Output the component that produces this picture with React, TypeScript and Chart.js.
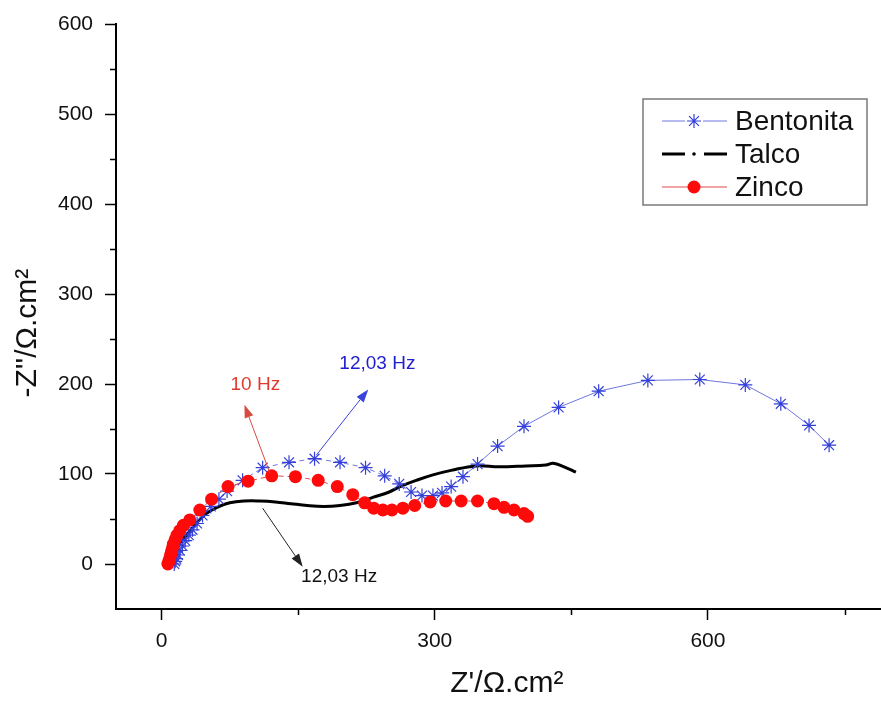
import React, { useEffect, useRef } from 'react';
import { Chart, registerables } from 'chart.js';

Chart.register(...registerables);

// ---- Data ----
const bentonitaX = [14, 15, 16, 18, 20, 23, 26, 30, 34, 39, 45, 54, 63, 72, 89, 111, 140, 168, 196, 224, 245, 261, 274, 286, 298, 308, 318, 331, 347, 369, 398, 436, 480, 534, 591, 641, 680, 711, 733];
const bentonitaY = [0, 3, 6, 10, 15, 20, 26, 32, 38, 45, 54, 64, 72, 81, 93, 107, 113, 117, 113, 107, 98, 89, 80, 76, 76, 79, 86, 97, 111, 131, 153, 174, 192, 204, 205, 199, 178, 154, 132];

const talcoX = [8, 10, 13, 17, 22, 29, 38, 49, 61, 75, 91, 108, 125, 142, 160, 178, 196, 214, 232, 250, 262, 280, 298, 318, 345, 371, 400, 422, 430, 442, 455];
const talcoY = [0, 5, 11, 18, 26, 34, 45, 56, 63, 68, 70, 70, 69, 67, 65, 64, 65, 68, 74, 80, 86, 93, 99, 104, 109, 108, 109, 110, 112, 108, 102];

const zincoX = [7, 8, 9, 10, 11, 12, 13, 15, 17, 20, 24, 31, 42, 55, 73, 95, 121, 147, 172, 193, 210, 223, 233, 243, 253, 265, 278, 295, 312, 329, 347, 365, 376, 387, 398, 402];
const zincoY = [0, 3, 6, 10, 14, 18, 22, 27, 32, 37, 43, 49, 60, 72, 86, 92, 98, 97, 93, 86, 77, 68, 62, 60, 60, 62, 65, 69, 70, 70, 70, 67, 63, 60, 56, 53];

const seriesNames = ['Bentonita', 'Talco', 'Zinco'];

const xTicks = [0, 300, 600];
const yTicks = [0, 100, 200, 300, 400, 500, 600];
const xMinorTicks = [150, 450, 750];
const yMinorTicks = [50, 150, 250, 350, 450, 550];

// annotation texts and their anchor points in data units
const annoTexts = ['12,03 Hz', '10 Hz', '12,03 Hz'];
const annoFrom = [[170, 121], [119, 101], [111, 62]];
const annoTo = [[227, 194], [91, 177], [155, -3]];
const annoLabel = [[237, 223], [103, 199], [195, -14]];

// ---- Styles ----
const FONT = "'Liberation Sans', Arial, sans-serif";
const BLUE = '#3440d8';
const BLUE_LINE = '#6f76de';
const RED = '#ff0a0a';
const RED_LINE = '#e04a4a';
const annoColors = ['#2020d0', '#e03a30', '#111111'];
const annoLineColors = ['#3a44d8', '#d84a40', '#222222'];

const toPoints = (xs: number[], ys: number[]) => xs.map((x, i) => ({ x, y: ys[i] }));

const minorTicksPlugin = {
  id: 'minorTicks',
  afterDraw(chart: any) {
    const { ctx } = chart;
    const xs = chart.scales.x;
    const ys = chart.scales.y;
    ctx.save();
    ctx.strokeStyle = '#000';
    ctx.lineWidth = 1.5;
    ctx.beginPath();
    xMinorTicks.forEach((v) => {
      const px = Math.round(xs.getPixelForValue(v)) + 0.5;
      ctx.moveTo(px, xs.top);
      ctx.lineTo(px, xs.top + 6);
    });
    yMinorTicks.forEach((v) => {
      const py = Math.round(ys.getPixelForValue(v)) + 0.5;
      ctx.moveTo(ys.right, py);
      ctx.lineTo(ys.right - 6, py);
    });
    ctx.stroke();
    ctx.restore();
  },
};

const annotationPlugin = {
  id: 'freqAnnotations',
  afterDatasetsDraw(chart: any) {
    const { ctx } = chart;
    const xs = chart.scales.x;
    const ys = chart.scales.y;
    ctx.save();
    annoTexts.forEach((t, i) => {
      const fx = xs.getPixelForValue(annoFrom[i][0]);
      const fy = ys.getPixelForValue(annoFrom[i][1]);
      const tx = xs.getPixelForValue(annoTo[i][0]);
      const ty = ys.getPixelForValue(annoTo[i][1]);
      const ang = Math.atan2(ty - fy, tx - fx);
      const headLen = 13;
      const headW = 4.5;
      const bx = tx - headLen * Math.cos(ang);
      const by = ty - headLen * Math.sin(ang);
      ctx.strokeStyle = annoLineColors[i];
      ctx.lineWidth = 1;
      ctx.beginPath();
      ctx.moveTo(fx, fy);
      ctx.lineTo(bx, by);
      ctx.stroke();
      ctx.fillStyle = annoLineColors[i];
      ctx.beginPath();
      ctx.moveTo(tx, ty);
      ctx.lineTo(bx + headW * Math.sin(ang), by - headW * Math.cos(ang));
      ctx.lineTo(bx - headW * Math.sin(ang), by + headW * Math.cos(ang));
      ctx.closePath();
      ctx.fill();
      ctx.fillStyle = annoColors[i];
      ctx.font = `19px ${FONT}`;
      ctx.textAlign = 'center';
      ctx.textBaseline = 'middle';
      ctx.fillText(t, xs.getPixelForValue(annoLabel[i][0]), ys.getPixelForValue(annoLabel[i][1]));
    });
    ctx.restore();
  },
};

const legendBoxPlugin = {
  id: 'legendBox',
  afterDraw(chart: any) {
    const { ctx, chartArea } = chart;
    const left = chartArea.right - 238;
    const right = chartArea.right - 14;
    const top = chartArea.top + 75;
    const bottom = chartArea.top + 181;
    ctx.save();
    ctx.fillStyle = '#fff';
    ctx.fillRect(left, top, right - left, bottom - top);
    ctx.strokeStyle = '#7a7a7a';
    ctx.lineWidth = 1.5;
    ctx.strokeRect(left, top, right - left, bottom - top);
    const rows = [top + 22, top + 55, top + 88];
    const sx0 = left + 19;
    const sx1 = left + 84;
    const mx = left + 51;
    rows.forEach((ry, i) => {
      const ds = chart.data.datasets[i];
      if (i === 0) {
        ctx.strokeStyle = BLUE_LINE;
        ctx.lineWidth = 1;
        ctx.beginPath();
        ctx.moveTo(sx0, ry);
        ctx.lineTo(mx - 9, ry);
        ctx.moveTo(mx + 9, ry);
        ctx.lineTo(sx1, ry);
        ctx.stroke();
        // asterisk
        ctx.strokeStyle = ds.pointBorderColor;
        ctx.lineWidth = 1.2;
        ctx.beginPath();
        for (let k = 0; k < 4; k++) {
          const a = (k * Math.PI) / 4;
          ctx.moveTo(mx - 7 * Math.cos(a), ry - 7 * Math.sin(a));
          ctx.lineTo(mx + 7 * Math.cos(a), ry + 7 * Math.sin(a));
        }
        ctx.stroke();
      } else if (i === 1) {
        ctx.strokeStyle = '#000';
        ctx.lineWidth = 3;
        ctx.beginPath();
        ctx.moveTo(sx0, ry);
        ctx.lineTo(sx0 + 23, ry);
        ctx.moveTo(sx1 - 23, ry);
        ctx.lineTo(sx1, ry);
        ctx.stroke();
        ctx.fillStyle = '#000';
        ctx.beginPath();
        ctx.arc(mx, ry, 1.8, 0, Math.PI * 2);
        ctx.fill();
      } else {
        ctx.strokeStyle = RED_LINE;
        ctx.lineWidth = 1;
        ctx.beginPath();
        ctx.moveTo(sx0, ry);
        ctx.lineTo(sx1, ry);
        ctx.stroke();
        ctx.fillStyle = RED;
        ctx.beginPath();
        ctx.arc(mx, ry, 6.5, 0, Math.PI * 2);
        ctx.fill();
      }
      ctx.fillStyle = '#111';
      ctx.font = `28px ${FONT}`;
      ctx.textAlign = 'left';
      ctx.textBaseline = 'middle';
      ctx.fillText(seriesNames[i], left + 92, ry + 1);
    });
    ctx.restore();
  },
};

export default function App() {
  const canvasRef = useRef<HTMLCanvasElement | null>(null);

  useEffect(() => {
    document.body.style.margin = '0';
    const canvas = canvasRef.current;
    if (!canvas) return;
    const chart = new Chart(canvas, {
      type: 'scatter',
      data: {
        datasets: [
          {
            label: seriesNames[0],
            data: toPoints(bentonitaX, bentonitaY),
            showLine: true,
            borderColor: BLUE_LINE,
            borderWidth: 1,
            segment: {
              borderDash: (c: any) => (c.p0.parsed.x < 290 ? [5, 4] : undefined),
            },
            pointStyle: 'star',
            pointRadius: 7,
            pointBorderColor: BLUE,
            pointBackgroundColor: BLUE,
            pointBorderWidth: 1.2,
            order: 1,
          } as any,
          {
            label: seriesNames[1],
            data: toPoints(talcoX, talcoY),
            showLine: true,
            borderColor: '#000',
            borderWidth: 3,
            tension: 0.4,
            pointRadius: 0,
            order: 2,
          },
          {
            label: seriesNames[2],
            data: toPoints(zincoX, zincoY),
            showLine: true,
            borderColor: RED_LINE,
            borderWidth: 1,
            borderDash: [5, 4],
            pointStyle: 'circle',
            pointRadius: 6.5,
            pointBorderWidth: 0,
            pointBackgroundColor: RED,
            pointBorderColor: RED,
            order: 0,
          },
        ],
      },
      options: {
        responsive: false,
        animation: false,
        layout: { autoPadding: false, padding: { top: 24, left: 0, right: 0, bottom: 0 } },
        plugins: {
          legend: { display: false },
          tooltip: { enabled: false },
        },
        scales: {
          x: {
            type: 'linear',
            min: -50,
            max: 790,
            afterBuildTicks: (s: any) => {
              s.ticks = xTicks.map((v) => ({ value: v }));
            },
            afterFit: (s: any) => {
              s.height = 93;
              s.paddingLeft = 0;
              s.paddingRight = 0;
            },
            grid: {
              display: true,
              drawOnChartArea: false,
              drawTicks: true,
              tickLength: 11,
              tickColor: '#000',
              tickWidth: 1.5,
            },
            border: { display: true, color: '#000', width: 2 },
            ticks: {
              font: { family: FONT, size: 21 },
              color: '#111',
              padding: 9,
              maxRotation: 0,
            },
            title: {
              display: true,
              text: "  Z'/Ω.cm²",
              font: { family: FONT, size: 30 },
              color: '#111',
              padding: { top: 0, bottom: 0 },
            },
          },
          y: {
            type: 'linear',
            min: -50,
            max: 600,
            afterBuildTicks: (s: any) => {
              s.ticks = yTicks.map((v) => ({ value: v }));
            },
            afterFit: (s: any) => {
              s.width = 116;
              s.paddingTop = 0;
              s.paddingBottom = 0;
            },
            grid: {
              display: true,
              drawOnChartArea: false,
              drawTicks: true,
              tickLength: 11,
              tickColor: '#000',
              tickWidth: 1.5,
            },
            border: { display: true, color: '#000', width: 2 },
            ticks: {
              font: { family: FONT, size: 21 },
              color: '#111',
              padding: 12,
            },
            title: {
              display: true,
              text: "-Z''/Ω.cm²    ",
              font: { family: FONT, size: 30 },
              color: '#111',
              padding: { top: 10, bottom: 0 },
            },
          },
        },
      },
      plugins: [minorTicksPlugin, annotationPlugin, legendBoxPlugin],
    });
    return () => chart.destroy();
  }, []);

  return (
    <div style={{ position: 'absolute', left: 0, top: 0, width: 881, height: 702, background: '#fff' }}>
      <canvas ref={canvasRef} width={881} height={702} style={{ display: 'block' }} />
    </div>
  );
}
